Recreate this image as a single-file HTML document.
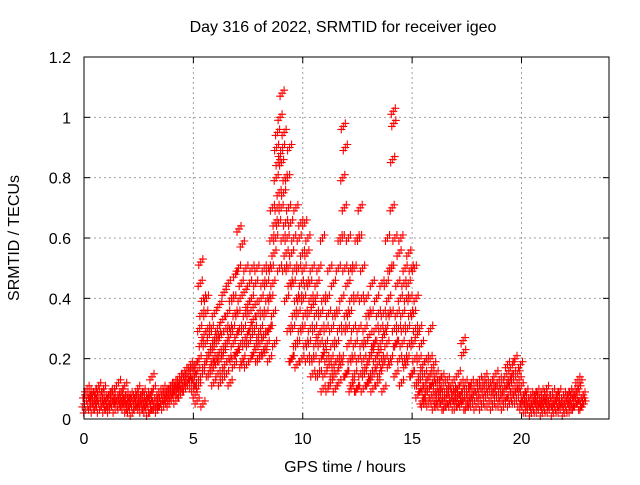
<!DOCTYPE html>
<html><head><meta charset="utf-8"><style>
body{margin:0;background:#fff;}
svg text{font-family:"Liberation Sans",sans-serif;font-size:16px;fill:#000;}
</style></head><body>
<svg id="chart" width="640" height="480">
<text x="343" y="32" text-anchor="middle">Day 316 of 2022, SRMTID for receiver igeo</text>
<text x="345" y="472" text-anchor="middle">GPS time / hours</text>
<text transform="translate(19,238) rotate(-90)" text-anchor="middle">SRMTID / TECUs</text>
<g id="grid"></g><g id="ticks"></g><g id="pts"></g>
<rect x="84" y="57" width="525" height="362" fill="none" stroke="#000" stroke-width="1"/>
</svg>
<script>
const xTicks=[0,5,10,15,20];
const yTicks=[0,0.2,0.4,0.6,0.8,1,1.2];
const yTickLabels=["0","0.2","0.4","0.6","0.8","1","1.2"];
const binStart=0, binWidth=0.25, dataEnd=22.85;
const binValues=[
[.05,.08,.03,.06,.1,.04,.07,.09],[.06,.04,.08,.05,.07,.03,.09,.06],[.05,.07,.04,.09,.06,.11,.03,.08],[.06,.04,.08,.05,.1,.07,.03,.06],
[.05,.07,.04,.06,.08,.03,.09,.05],[.04,.06,.08,.05,.1,.03,.07,.06],[.06,.08,.12,.05,.04,.07,.09,.06],[.05,.07,.04,.11,.06,.08,.03,.06],
[.04,.06,.03,.08,.05,.07,.02,.06],[.05,.03,.07,.04,.08,.06,.1,.05],[.06,.04,.08,.05,.03,.07,.09,.05],[.04,.06,.03,.08,.05,.07,.02,.06],
[.05,.08,.03,.14,.06,.1,.04,.07],[.04,.06,.08,.03,.05,.09,.07,.05],[.05,.08,.06,.1,.04,.07,.09,.06],[.07,.09,.06,.1,.05,.08,.11,.07],
[.08,.1,.07,.12,.09,.11,.06,.1],[.1,.12,.09,.14,.11,.08,.13,.1],[.11,.14,.12,.16,.1,.13,.15,.12],[.13,.16,.12,.18,.14,.11,.17,.15],
[.1,.14,.08,.18,.12,.06,.16,.11],[.2,.3,.45,.52,.25,.35,.15,.05,.4,.28],[.18,.25,.35,.4,.2,.3,.15,.22,.28],[.15,.22,.3,.18,.25,.2,.12,.35,.27],
[.18,.25,.2,.3,.15,.28,.22,.38,.12],[.2,.28,.15,.33,.22,.42,.18,.25,.3],[.15,.25,.35,.45,.2,.3,.12,.28,.4],[.2,.3,.25,.4,.18,.35,.48,.22,.28],
[.22,.35,.5,.63,.3,.4,.25,.45,.18,.58],[.2,.3,.42,.25,.35,.5,.18,.28,.38],[.25,.35,.45,.3,.2,.4,.5,.28,.33],[.22,.3,.38,.45,.25,.5,.2,.35,.28],
[.2,.25,.3,.4,.22,.35,.45,.28,.5],[.22,.28,.35,.45,.25,.4,.5,.3,.2],[.3,.4,.5,.6,.7,.45,.35,.55,.25,.65],[.6,.8,.9,.7,.95,.85,.65,.75,.5,1.0,.88],
[.7,.85,1.08,.9,.6,.75,.95,.5,.8,.65,.55],[.4,.6,.8,.5,.7,.3,.9,.45,.65,.2,.55],[.2,.3,.45,.6,.35,.5,.25,.7,.4,.18],[.25,.35,.5,.6,.4,.3,.65,.45,.2,.55],
[.3,.4,.5,.65,.35,.25,.45,.55,.2,.6],[.25,.35,.45,.3,.4,.2,.5,.15,.38],[.2,.3,.4,.25,.35,.45,.15,.28,.5],[.15,.25,.35,.2,.3,.6,.1,.4,.22],
[.15,.25,.3,.2,.4,.1,.35,.18,.5],[.12,.2,.3,.15,.25,.45,.18,.35,.1],[.15,.25,.35,.2,.5,.12,.3,.6,.18],[.2,.4,.6,.8,.97,.3,.7,.5,.9,.15,.35],
[.15,.3,.45,.6,.25,.35,.2,.5,.1,.4],[.12,.2,.3,.5,.15,.25,.4,.1,.6],[.1,.2,.3,.6,.7,.15,.4,.25,.5],[.1,.2,.15,.3,.25,.4,.18,.12,.35],
[.12,.2,.28,.15,.35,.22,.45,.1,.25],[.15,.25,.2,.3,.4,.18,.12,.35,.22],[.15,.25,.3,.2,.45,.18,.35,.1,.28],[.2,.3,.45,.25,.6,.35,.4,.18,.5],
[.2,.35,.5,.7,.86,1.02,.98,.3,.6,.25],[.15,.25,.35,.45,.3,.55,.2,.4,.6],[.12,.25,.35,.3,.45,.2,.5,.18,.4],[.2,.3,.45,.55,.25,.4,.35,.5,.15],
[.15,.25,.35,.5,.2,.3,.4,.12,.28],[.08,.12,.2,.3,.15,.1,.25,.06,.18],[.05,.1,.15,.08,.12,.2,.06,.1,.14],[.05,.1,.2,.3,.08,.15,.12,.06,.18],
[.04,.08,.12,.15,.06,.1,.05,.09,.13],[.05,.08,.1,.14,.06,.12,.04,.09],[.04,.07,.1,.13,.05,.09,.06,.11],[.05,.08,.12,.06,.1,.04,.09,.07],
[.04,.07,.1,.15,.05,.08,.06,.12],[.05,.09,.26,.22,.07,.12,.04,.1],[.04,.07,.1,.06,.09,.05,.12,.08],[.05,.08,.11,.06,.09,.04,.07,.1],
[.05,.09,.13,.07,.1,.04,.08,.12],[.06,.1,.14,.08,.12,.05,.09,.11],[.05,.09,.12,.07,.11,.04,.08,.1],[.06,.1,.15,.08,.12,.05,.09,.13],
[.05,.08,.12,.06,.1,.04,.09,.11],[.06,.1,.15,.18,.08,.12,.05,.14],[.07,.12,.18,.1,.15,.06,.2,.09],[.06,.1,.15,.08,.13,.05,.18,.11],
[.04,.06,.08,.05,.07,.03,.09,.06],[.03,.05,.07,.04,.06,.08,.02,.05],[.04,.06,.08,.05,.07,.03,.09,.06],[.03,.05,.07,.04,.09,.06,.02,.05],
[.04,.06,.08,.05,.1,.03,.07,.06],[.03,.05,.07,.04,.06,.09,.02,.05],[.04,.06,.08,.05,.07,.03,.09,.05],[.03,.05,.07,.04,.06,.08,.02,.06],
[.04,.06,.08,.05,.07,.03,.09,.06],[.03,.05,.07,.09,.06,.04,.08,.05],[.05,.08,.13,.1,.06,.12,.04,.07],[.04,.06,.08,.05]
];
const NS="http://www.w3.org/2000/svg";
const X0=84,X1=609,Y0=419,Y1=57,XMAX=24,YMAX=1.2;
function sx(t){return X0+(X1-X0)*t/XMAX;}
function sy(v){return Y0-(Y0-Y1)*v/YMAX;}
function mk(tag,attrs,parent){const e=document.createElementNS(NS,tag);for(const k in attrs)e.setAttribute(k,attrs[k]);parent.appendChild(e);return e;}
const grid=document.getElementById('grid'),ticks=document.getElementById('ticks'),pts=document.getElementById('pts');
xTicks.forEach(t=>{
  const x=sx(t);
  if(t>0){const g=mk('line',{x1:x,x2:x,y1:Y1,y2:Y0,stroke:'#a0a0a0','stroke-dasharray':'2,3'},grid);
  
  }
  mk('line',{x1:x,x2:x,y1:Y0,y2:Y0-6,stroke:'#000'},ticks);
  mk('line',{x1:x,x2:x,y1:Y1,y2:Y1+6,stroke:'#000'},ticks);
  const tx=mk('text',{x:x,y:Y0+25,'text-anchor':'middle'},ticks);tx.textContent=String(t);
  
  
});
yTicks.forEach((v,i)=>{
  const y=sy(v);
  if(v>0&&v<YMAX){const g=mk('line',{x1:X0,x2:X1,y1:y,y2:y,stroke:'#a0a0a0','stroke-dasharray':'2,3'},grid);
  
  }
  mk('line',{x1:X0,x2:X0+6,y1:y,y2:y,stroke:'#000'},ticks);
  mk('line',{x1:X1,x2:X1-6,y1:y,y2:y,stroke:'#000'},ticks);
  const tx=mk('text',{x:X0-13,y:y+6,'text-anchor':'end'},ticks);tx.textContent=yTickLabels[i];
  
  
});
// marker footprint offsets (pixel styling to mimic overplotted crosses)
const offs=[[0,0],[-2,3],[2,-3]];
let d='';
binValues.forEach((vals,b)=>{
  const t0=binStart+b*binWidth;
  const w=Math.min(binWidth,dataEnd-t0);
  vals.forEach((v,i)=>{
    const bx=sx(t0+(i+0.5)/vals.length*w),by=sy(v);
    offs.forEach(o=>{
      const x=bx+o[0],y=Math.min(Y0-1,by+o[1]);
      d+='M'+(x-4).toFixed(1)+' '+y.toFixed(1)+'h8M'+x.toFixed(1)+' '+(y-4).toFixed(1)+'v8';
    });
  });
});
const p=mk('path',{d:d,stroke:'#ff0000','stroke-width':1.1,fill:'none'},pts);


</script>
</body></html>
